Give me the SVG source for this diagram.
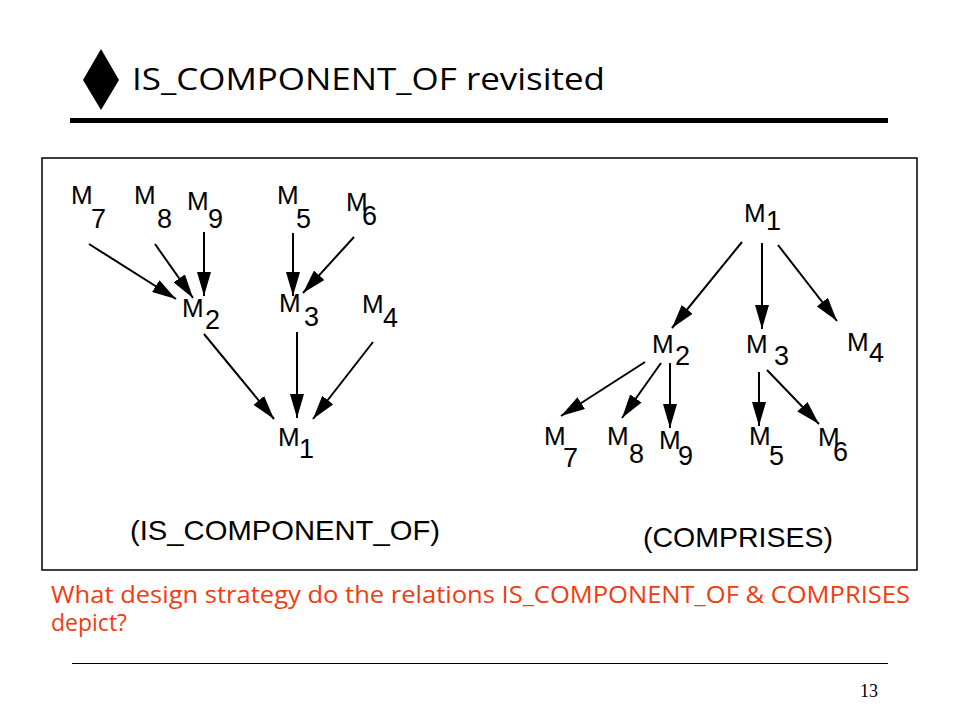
<svg xmlns="http://www.w3.org/2000/svg" width="960" height="720" viewBox="0 0 960 720">
<style>
.m{font-family:"Liberation Sans",Arial,sans-serif;font-size:26px;fill:#000}
.d{font-family:"Liberation Sans",Arial,sans-serif;font-size:27px;fill:#000}
.lab{font-family:"Liberation Sans",Arial,sans-serif;font-size:28px;fill:#000}
.ttl{font-family:"Open Sans","DejaVu Sans",sans-serif;font-size:31px;fill:#000}
.q{font-family:"Open Sans","DejaVu Sans",sans-serif;font-size:23px;fill:#F23C0F}
.pg{font-family:"Liberation Serif","Times New Roman",serif;font-size:18px;fill:#000}
.c line{stroke:#000;stroke-width:2;marker-end:url(#ah)}
</style>
<defs>
<marker id="ah" markerUnits="userSpaceOnUse" markerWidth="26" markerHeight="14" refX="24" refY="7" orient="auto">
<path d="M0,0 L24,7 L0,14 Z" fill="#000"/>
</marker>
</defs>
<rect width="960" height="720" fill="#fff"/>
<g id="title">
<path d="M101,49 L119,80 L101,110 L83,80 Z" fill="#000"/>
<text class="ttl" x="132" y="90" textLength="473" lengthAdjust="spacingAndGlyphs">IS_COMPONENT_OF revisited</text>
<line x1="70" y1="120.5" x2="888" y2="120.5" stroke="#000" stroke-width="5"/>
</g>
<rect id="frame" x="42" y="158" width="875" height="412" fill="none" stroke="#000" stroke-width="1.5"/>
<g id="left-tree">
<g id="L-M7"><text class="m" x="71" y="204">M</text><text class="d" x="91" y="228">7</text></g>
<g id="L-M8"><text class="m" x="134" y="204">M</text><text class="d" x="157" y="228">8</text></g>
<g id="L-M9"><text class="m" x="187" y="210">M</text><text class="d" x="208" y="228">9</text></g>
<g id="L-M5"><text class="m" x="277" y="204">M</text><text class="d" x="296" y="228">5</text></g>
<g id="L-M6"><text class="m" x="346" y="211">M</text><text class="d" x="362" y="225">6</text></g>
<g id="L-M2"><text class="m" x="182" y="317">M</text><text class="d" x="205" y="329">2</text></g>
<g id="L-M3"><text class="m" x="279" y="312">M</text><text class="d" x="304" y="326">3</text></g>
<g id="L-M4"><text class="m" x="362" y="313">M</text><text class="d" x="383" y="327">4</text></g>
<g id="L-M1"><text class="m" x="278" y="446">M</text><text class="d" x="299" y="458">1</text></g>
<text class="lab" x="130" y="540" textLength="310" lengthAdjust="spacingAndGlyphs">(IS_COMPONENT_OF)</text>
</g>
<g id="right-tree">
<g id="R-M1"><text class="m" x="744" y="222">M</text><text class="d" x="766" y="230">1</text></g>
<g id="R-M2"><text class="m" x="652" y="353">M</text><text class="d" x="675" y="365">2</text></g>
<g id="R-M3"><text class="m" x="746" y="353">M</text><text class="d" x="774" y="365">3</text></g>
<g id="R-M4"><text class="m" x="847" y="351">M</text><text class="d" x="869" y="362">4</text></g>
<g id="R-M7"><text class="m" x="544" y="445">M</text><text class="d" x="563" y="467">7</text></g>
<g id="R-M8"><text class="m" x="607" y="445">M</text><text class="d" x="629" y="463">8</text></g>
<g id="R-M9"><text class="m" x="659" y="449">M</text><text class="d" x="678" y="465">9</text></g>
<g id="R-M5"><text class="m" x="749" y="445">M</text><text class="d" x="769" y="465">5</text></g>
<g id="R-M6"><text class="m" x="818" y="446">M</text><text class="d" x="833" y="461">6</text></g>
<text class="lab" x="643" y="547" textLength="190" lengthAdjust="spacingAndGlyphs">(COMPRISES)</text>
</g>
<g id="connectors" class="c">
<line x1="89" y1="244" x2="176" y2="299"/>
<line x1="155" y1="244" x2="193" y2="298"/>
<line x1="204" y1="232" x2="204" y2="296"/>
<line x1="293" y1="233" x2="293" y2="296"/>
<line x1="354" y1="237" x2="303" y2="293"/>
<line x1="204" y1="334" x2="274" y2="419"/>
<line x1="297" y1="332" x2="297" y2="418"/>
<line x1="373" y1="342" x2="313" y2="419"/>
<line x1="742" y1="242" x2="672" y2="328"/>
<line x1="762" y1="243" x2="762" y2="329"/>
<line x1="778" y1="245" x2="837" y2="321"/>
<line x1="645" y1="362" x2="561" y2="416"/>
<line x1="661" y1="363" x2="622" y2="418"/>
<line x1="670" y1="363" x2="670" y2="428"/>
<line x1="759" y1="372" x2="759" y2="426"/>
<line x1="767" y1="370" x2="819" y2="424"/>
</g>
<g id="question">
<text class="q" x="51" y="603" textLength="859" lengthAdjust="spacingAndGlyphs">What design strategy do the relations IS_COMPONENT_OF &amp; COMPRISES</text>
<text class="q" x="51" y="631">depict?</text>
</g>
<line x1="72" y1="663.5" x2="888" y2="663.5" stroke="#000" stroke-width="1"/>
<text class="pg" x="860" y="697">13</text>
</svg>
